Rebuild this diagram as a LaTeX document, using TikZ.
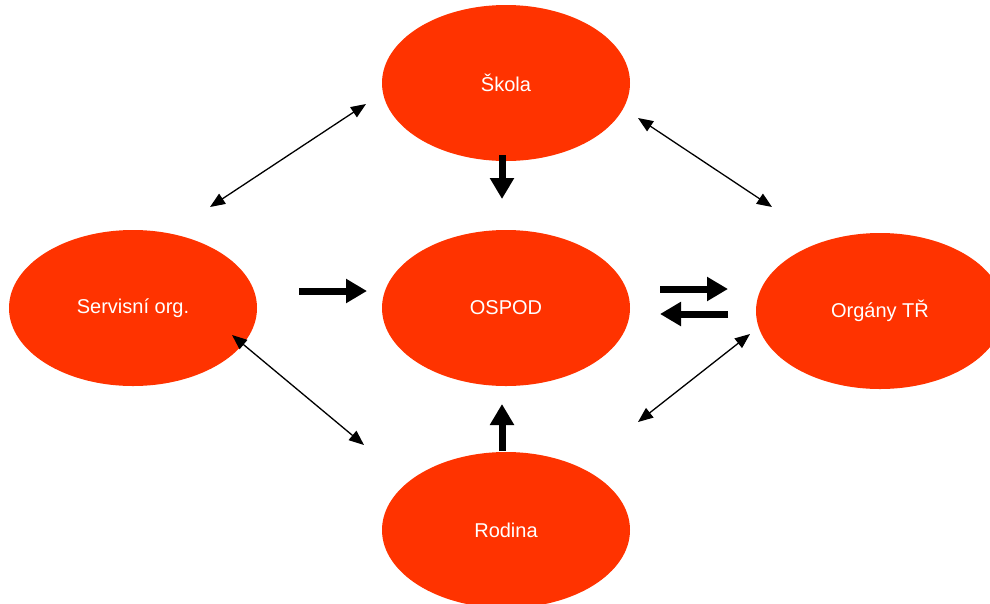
\documentclass[tikz,border=0pt]{standalone}
\usepackage{fontspec}
\setmainfont{Liberation Sans}
\usetikzlibrary{arrows.meta,shapes.geometric}
\definecolor{org}{HTML}{FF3300}
\begin{document}
\begin{tikzpicture}[x=1pt,y=-1pt,
  blob/.style={ellipse,fill=org,minimum width=248pt,minimum height=156pt,inner sep=0pt,text=white,font=\fontsize{20}{24}\selectfont},
  thinarr/.style={line width=1.3pt,{Triangle[length=15pt,width=12pt]}-{Triangle[length=15pt,width=12pt]}},
  thickarr/.style={line width=7pt,-{Triangle[length=21pt,width=23pt]}}]
\useasboundingbox (0,0) rectangle (990,603);
\node[blob] (skola) at (506,83) {Škola};
\node[blob] (serv) at (133,308) {Servisní org.};
\node[blob] (ospod) at (506,308) {OSPOD};
\node[blob] (org) at (880,311) {Orgány TŘ};
\node[blob] (rod) at (506,530) {Rodina};
% thin double arrows
\coordinate (a1) at (210,207); \coordinate (a2) at (366,104);
\coordinate (b1) at (638,118); \coordinate (b2) at (772,207);
\coordinate (c1) at (232,335); \coordinate (c2) at (364,445);
\coordinate (d1) at (638,422); \coordinate (d2) at (750,334);
\draw[thinarr] (a1) -- (a2);
\draw[thinarr] (b1) -- (b2);
\draw[thinarr] (c1) -- (c2);
\draw[thinarr] (d1) -- (d2);
% thick arrows
\coordinate (e1) at (502,155); \coordinate (e2) at (502,199);
\coordinate (f1) at (299,291); \coordinate (f2) at (367,291);
\coordinate (g1) at (660,289); \coordinate (g2) at (728,289);
\coordinate (h1) at (728,314); \coordinate (h2) at (660,314);
\coordinate (i1) at (502,451); \coordinate (i2) at (502,404);
\draw[thickarr] (e1) -- (e2);
\draw[thickarr] (f1) -- (f2);
\draw[thickarr] (g1) -- (g2);
\draw[thickarr] (h1) -- (h2);
\draw[thickarr] (i1) -- (i2);
\end{tikzpicture}
\end{document}
